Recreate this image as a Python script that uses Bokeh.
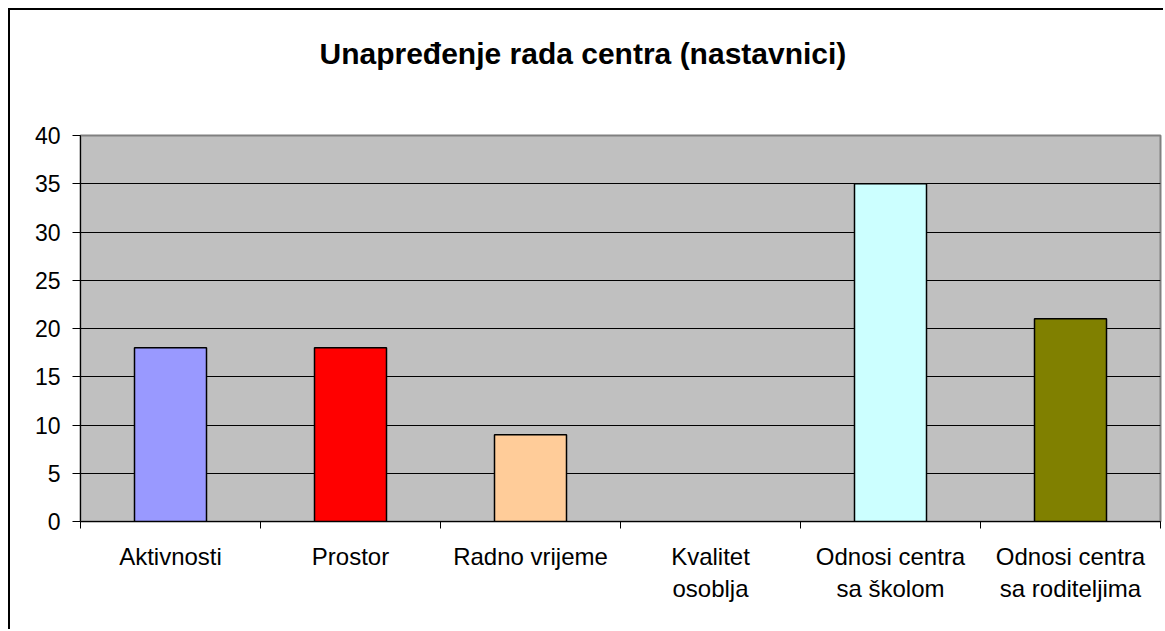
from bokeh.plotting import figure
from bokeh.models import FixedTicker, Range1d, ColumnDataSource, LinearAxis
from bokeh.embed import file_html
from bokeh.resources import INLINE

categories = ["Aktivnosti", "Prostor", "Radno vrijeme", "Kvalitet\nosoblja",
              "Odnosi centra\nsa školom", "Odnosi centra\nsa roditeljima"]
values = [18, 18, 9, 0, 35, 21]
colors = ["#9999FF", "#FF0000", "#FFCC99", "#FFFFFF", "#CCFFFF", "#808000"]
y_ticks = [0, 5, 10, 15, 20, 25, 30, 35, 40]
title_text = "Unapređenje rada centra (nastavnici)"

FONT = "Liberation Sans"

xs = [i + 0.5 for i in range(len(categories))]
line_alpha = [1.0 if v > 0 else 0.0 for v in values]
src = ColumnDataSource(dict(x=xs, top=values, color=colors, la=line_alpha))

p = figure(width=1155, height=621, output_backend="svg", toolbar_location=None,
           x_range=Range1d(0, len(categories)), y_range=Range1d(0, 40),
           min_border_left=70, min_border_right=5, min_border_top=125,
           min_border_bottom=110, title=title_text)
p.styles = {"margin-left": "8px", "margin-top": "8px",
            "border-left": "2px solid black", "border-top": "2px solid black"}
p.background_fill_color = "#C0C0C0"
p.border_fill_color = "white"
p.outline_line_color = "#808080"
p.outline_line_width = 2

# invisible spacer axis between the title and the plot area (one hidden tick)
spacer = LinearAxis(ticker=FixedTicker(ticks=[len(categories) / 2]),
                    major_label_overrides={len(categories) / 2: "."},
                    axis_line_alpha=0,
                    major_tick_out=60, major_tick_in=0, major_tick_line_alpha=0,
                    minor_tick_out=0, minor_tick_in=0, minor_tick_line_alpha=0,
                    major_label_text_alpha=0, major_label_text_font_size="1px",
                    major_label_standoff=0)
p.add_layout(spacer, "above")

p.title.align = "left"
p.title.offset = 239
p.title.standoff = 11
p.title.text_font = FONT
p.title.text_font_size = "30px"
p.title.text_font_style = "bold"
p.title.text_color = "black"

r = p.vbar(x="x", top="top", width=0.4, bottom=0, source=src,
           fill_color="color", line_color="black", line_alpha="la", line_width=1.5)

# y axis
p.yaxis.ticker = FixedTicker(ticks=y_ticks)
p.yaxis.axis_line_color = "black"
p.yaxis.major_tick_out = 8
p.yaxis.major_tick_in = 0
p.yaxis.minor_tick_out = 0
p.yaxis.minor_tick_in = 0
p.yaxis.major_label_text_font = FONT
p.yaxis.major_label_text_font_size = "23px"
p.yaxis.major_label_text_color = "black"
p.yaxis.major_label_standoff = 12

# x axis
xaxis = p.below[0]
xaxis.ticker = FixedTicker(ticks=xs, minor_ticks=list(range(len(categories) + 1)))
xaxis.major_label_overrides = {x: c for x, c in zip(xs, categories)}
xaxis.axis_line_color = "black"
xaxis.major_tick_out = 0
xaxis.major_tick_in = 0
xaxis.minor_tick_out = 7
xaxis.minor_tick_in = 0
xaxis.minor_tick_line_color = "black"
xaxis.major_label_text_font = FONT
xaxis.major_label_text_font_size = "24px"
xaxis.major_label_text_color = "black"
xaxis.major_label_standoff = 14

p.xgrid.visible = False
p.ygrid.ticker = FixedTicker(ticks=y_ticks)
p.ygrid.grid_line_color = "black"
p.ygrid.grid_line_width = 1

open("out.html", "w").write(file_html(p, INLINE))
